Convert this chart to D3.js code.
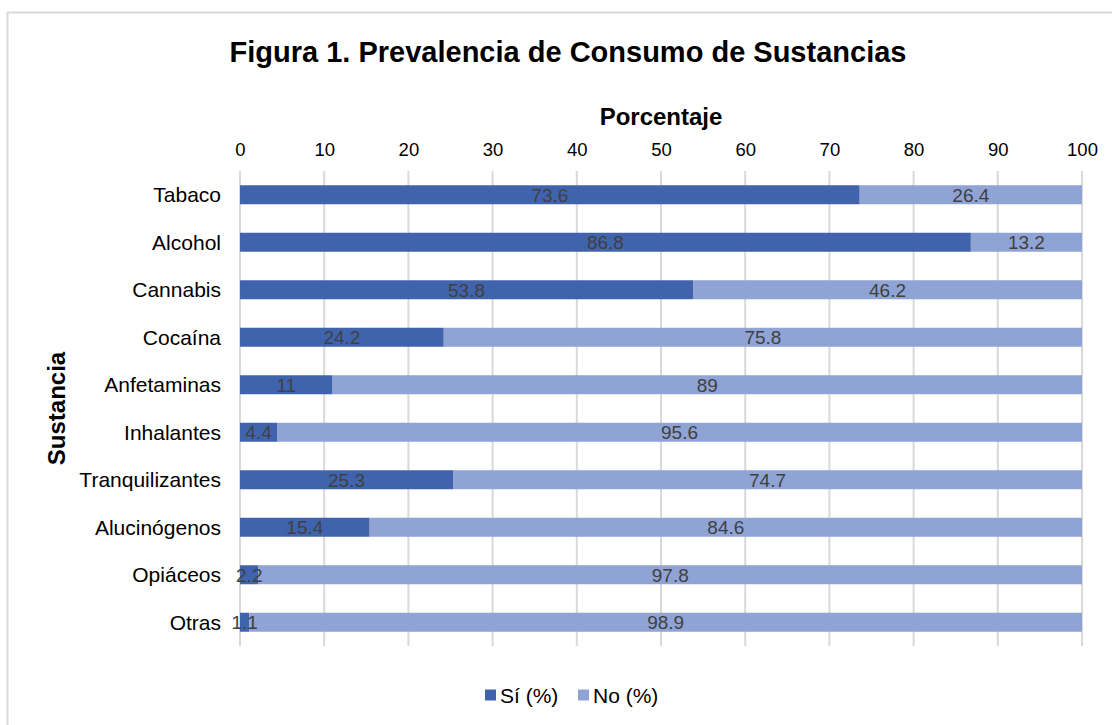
<!DOCTYPE html>
<html>
<head>
<meta charset="utf-8">
<script src="https://cdn.jsdelivr.net/npm/d3@7"></script>
<style>
  body { margin: 0; background: #fff; }
  text { font-family: "Liberation Sans", Arial, sans-serif; }
</style>
</head>
<body>
<svg id="chart" width="1112" height="725"></svg>
<script>
// datos
const sustancias = ["Tabaco", "Alcohol", "Cannabis", "Cocaína", "Anfetaminas", "Inhalantes",
  "Tranquilizantes", "Alucinógenos", "Opiáceos", "Otras"];
const si = [73.6, 86.8, 53.8, 24.2, 11, 4.4, 25.3, 15.4, 2.2, 1.1];
const no = [26.4, 13.2, 46.2, 75.8, 89, 95.6, 74.7, 84.6, 97.8, 98.9];
const series = ["Sí (%)", "No (%)"];
const ticks = [0, 10, 20, 30, 40, 50, 60, 70, 80, 90, 100];

const colores = ["#3F64AD", "#8FA4D5"];

const svg = d3.select("#chart");

// marco del gráfico
svg.append("rect")
  .attr("x", 7.5).attr("y", 12.5)
  .attr("width", 1120).attr("height", 730)
  .attr("fill", "#fff")
  .attr("stroke", "#d9d9d9")
  .attr("stroke-width", 2);

const margin = {left: 240, right: 1082, top: 171, bottom: 646};

const x = d3.scaleLinear().domain([0, 100]).range([margin.left, margin.right]);
const y = d3.scaleBand().domain(sustancias).range([margin.top, margin.bottom])
  .paddingInner(0.6).paddingOuter(0.3);

// lignes de la grille
const g = svg.append("g");
g.selectAll("line.grid")
  .data(ticks)
  .enter()
  .append("line")
  .attr("class", "grid")
  .attr("x1", d => x(d)).attr("x2", d => x(d))
  .attr("y1", margin.top).attr("y2", margin.bottom)
  .attr("stroke", "#d9d9d9")
  .attr("stroke-width", 2);

// axe du haut
const axis = d3.axisTop(x).tickValues(ticks).tickSize(0).tickPadding(0);
const ax = svg.append("g")
  .attr("transform", "translate(0,156)")
  .call(axis);
ax.select(".domain").remove();
ax.selectAll("text")
  .attr("font-size", "18.5px")
  .attr("fill", "#000")
  .attr("dy", "0")
  .style("font-family", "Liberation Sans, Arial, sans-serif");

// axe vertical
const yAxis = d3.axisLeft(y).tickSize(0).tickPadding(19);
const ay = svg.append("g")
  .attr("transform", "translate(" + margin.left + ",0)")
  .call(yAxis);
ay.select(".domain").remove();
ay.selectAll("text")
  .attr("font-size", "21px")
  .attr("fill", "#000")
  .attr("dy", "0.36em")
  .style("font-family", "Liberation Sans, Arial, sans-serif");

// pile des données
const rows = sustancias.map((s, i) => ({sustancia: s, si: si[i], no: no[i]}));
const stack = d3.stack().keys(["si", "no"])(rows);

const capas = svg.selectAll("g.capa")
  .data(stack)
  .enter()
  .append("g")
  .attr("class", "capa")
  .attr("fill", (d, i) => colores[i]);

capas.selectAll("rect")
  .data(d => d)
  .enter()
  .append("rect")
  .attr("x", d => x(d[0]))
  .attr("width", d => x(d[1]) - x(d[0]))
  .attr("y", d => y(d.data.sustancia))
  .attr("height", y.bandwidth());

// étiquettes par-dessus toutes les barres
const etiquetas = svg.append("g");
stack.forEach(capa => {
  etiquetas.selectAll(null)
    .data(capa)
    .enter()
    .append("text")
    .attr("x", d => (x(d[0]) + x(d[1])) / 2)
    .attr("y", d => y(d.data.sustancia) + y.bandwidth() / 2)
    .attr("dy", "0.36em")
    .attr("text-anchor", "middle")
    .attr("font-size", "19px")
    .attr("fill", "#404040")
    .text(d => d3.format("~g")(+(d[1] - d[0]).toFixed(1)));
});

// titres
svg.append("text")
  .attr("x", 568).attr("y", 62)
  .attr("text-anchor", "middle")
  .attr("font-size", "29px")
  .attr("font-weight", "bold")
  .text("Figura 1. Prevalencia de Consumo de Sustancias");

svg.append("text")
  .attr("x", (margin.left + margin.right) / 2).attr("y", 125)
  .attr("text-anchor", "middle")
  .attr("font-size", "24px")
  .attr("font-weight", "bold")
  .text("Porcentaje");

svg.append("text")
  .attr("transform", "translate(65," + (margin.top + margin.bottom) / 2 + ") rotate(-90)")
  .attr("text-anchor", "middle")
  .attr("font-size", "24px")
  .attr("font-weight", "bold")
  .text("Sustancia");

// légende
const leg = svg.append("g").attr("transform", "translate(485,695)");
const legX = [0, 93];
series.forEach((s, i) => {
  leg.append("rect")
    .attr("x", legX[i]).attr("y", -5.5)
    .attr("width", 11).attr("height", 11)
    .attr("fill", colores[i]);
  leg.append("text")
    .attr("x", legX[i] + 15).attr("y", 0)
    .attr("dy", "0.36em")
    .attr("font-size", "21px")
    .attr("fill", "#000")
    .text(s);
});
</script>
</body>
</html>
